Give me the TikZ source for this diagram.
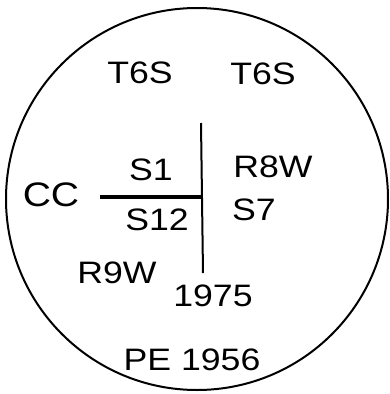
\documentclass[tikz,border=0pt]{standalone}
\usepackage{fontspec}
\setmainfont{Liberation Sans}
\begin{document}
\begin{tikzpicture}[x=1pt,y=-1pt,
  lbl/.style={font=\fontsize{31}{31}\selectfont, inner sep=0pt, xscale=1.15}]
\useasboundingbox (0,0) rectangle (389,394);
\draw[line width=2pt] (197,199) circle (191);
\coordinate (vt) at (201,123);
\coordinate (vb) at (203,273);
\coordinate (hl) at (100,197);
\coordinate (hr) at (201,197);
\draw[line width=2pt] (vt) -- (vb);
\draw[line width=3.5pt] (hl) -- (hr);
\node[lbl] (t1) at (140,73) {T6S};
\node[lbl] (t2) at (263,74) {T6S};
\node[lbl] (s1) at (151,170) {S1};
\node[lbl] (r8) at (273,167) {R8W};
\node[lbl, font=\fontsize{34}{34}\selectfont] (cc) at (51,195) {CC};
\node[lbl] (s12) at (157,220) {S12};
\node[lbl] (s7) at (254,210) {S7};
\node[lbl] (r9) at (117,273) {R9W};
\node[lbl] (y75) at (213,296) {1975};
\node[lbl] (pe) at (192,360) {PE 1956};
\end{tikzpicture}
\end{document}
